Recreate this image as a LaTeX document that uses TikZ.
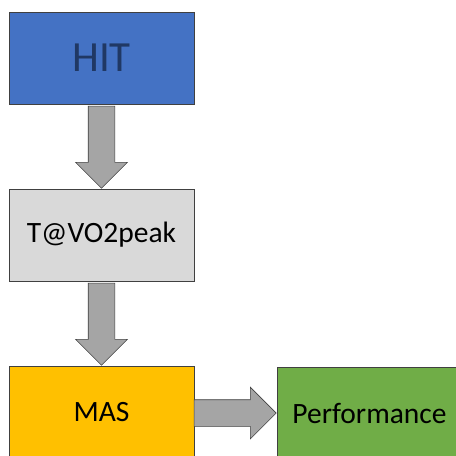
\documentclass[tikz,border=0pt]{standalone}
\usepackage{fontspec}
\setmainfont{Carlito}
\usetikzlibrary{shapes.arrows,shadows}
\definecolor{hitblue}{HTML}{4472C4}
\definecolor{hittext}{HTML}{203864}
\definecolor{tgray}{HTML}{D9D9D9}
\definecolor{masgold}{HTML}{FFC000}
\definecolor{perfgreen}{HTML}{70AD47}
\definecolor{arrowgray}{HTML}{A5A5A5}
\definecolor{edgegray}{HTML}{404040}
\tikzset{
  box/.style={draw=edgegray, line width=0.8pt, minimum width=185pt, minimum height=92pt,
    inner sep=0pt, drop shadow={opacity=0.25, shadow xshift=1.2pt, shadow yshift=-1.2pt}},
  blockarrow/.style={single arrow, draw=edgegray, fill=arrowgray, line width=0.6pt,
    inner xsep=0pt, inner ysep=13pt, minimum height=82pt, anchor=tip,
    single arrow head extend=12.5pt, single arrow tip angle=90},
}
\begin{document}
\begin{tikzpicture}[x=1pt, y=-1pt]
\useasboundingbox (0,0) rectangle (456,456);
\node[box, fill=hitblue, text=hittext, font=\fontsize{43}{43}\selectfont] (hit) at (101.5,58) {HIT};
\node[box, fill=tgray, font=\fontsize{29.5}{29.5}\selectfont] (tvo) at (101.5,235) {T@VO2peak};
\node[box, fill=masgold, font=\fontsize{29.5}{29.5}\selectfont] (mas) at (101.5,412) {MAS};
\node[box, fill=perfgreen, font=\fontsize{29.5}{29.5}\selectfont] (perf) at (369.5,413) {Performance};
% block arrows between the boxes
\path (hit.south) -- (tvo.north) node[blockarrow, pos=1, rotate=-90] {};
\path (tvo.south) -- (mas.north) node[blockarrow, pos=1, rotate=-90] {};
\path (mas.east) -- (perf.west) node[blockarrow, pos=1] {};
\end{tikzpicture}
\end{document}
